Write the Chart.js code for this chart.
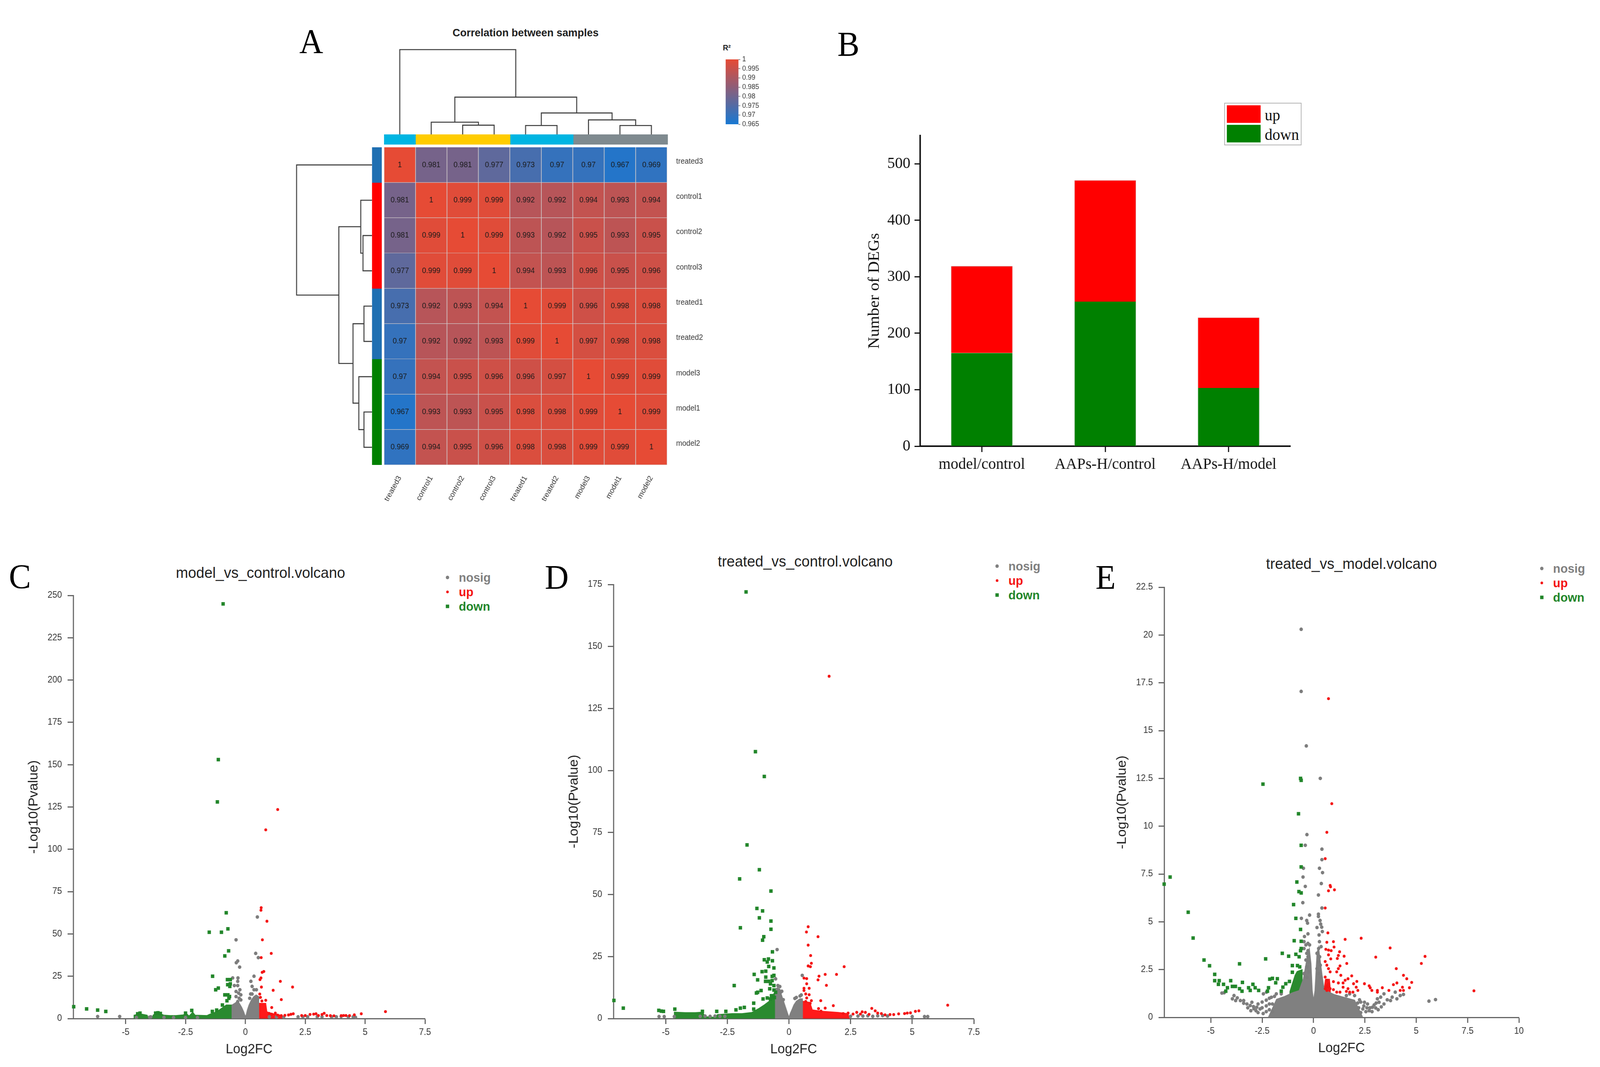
<!DOCTYPE html>
<html>
<head>
<meta charset="utf-8">
<title>DEG figure</title>
<script src="https://cdn.jsdelivr.net/npm/chart.js@4"></script>
<style>
  html, body { margin: 0; padding: 0; background: #fff; overflow: hidden; }
  #page { position: absolute; left: 0; top: 0; width: 4262px; height: 2731px; overflow: hidden; background: #fff; transform-origin: 0 0; }
  #page canvas { position: absolute; }
  .txt { position: absolute; white-space: nowrap; transform: translate(-50%, -50%); }
  .txtLeft { position: absolute; white-space: nowrap; transform: translate(0, -50%); }
  .mark { position: absolute; transform: translate(-50%, -50%); }
</style>
</head>
<body>
<div id="page"></div>
<script>
// --- panel A: sample correlation ---
const samples = ['treated3', 'control1', 'control2', 'control3', 'treated1', 'treated2', 'model3', 'model1', 'model2'];
const correlation = [
  [1, 0.981, 0.981, 0.977, 0.973, 0.97, 0.97, 0.967, 0.969],
  [0.981, 1, 0.999, 0.999, 0.992, 0.992, 0.994, 0.993, 0.994],
  [0.981, 0.999, 1, 0.999, 0.993, 0.992, 0.995, 0.993, 0.995],
  [0.977, 0.999, 0.999, 1, 0.994, 0.993, 0.996, 0.995, 0.996],
  [0.973, 0.992, 0.993, 0.994, 1, 0.999, 0.996, 0.998, 0.998],
  [0.97, 0.992, 0.992, 0.993, 0.999, 1, 0.997, 0.998, 0.998],
  [0.97, 0.994, 0.995, 0.996, 0.996, 0.997, 1, 0.999, 0.999],
  [0.967, 0.993, 0.993, 0.995, 0.998, 0.998, 0.999, 1, 0.999],
  [0.969, 0.994, 0.995, 0.996, 0.998, 0.998, 0.999, 0.999, 1]
];
const groupSizes = [1, 3, 2, 3];
const topGroupColors = ['#00b5e2', '#ffcc00', '#00b5e2', '#7f8a8f'];
const leftGroupColors = ['#1f6fb2', '#ff0000', '#1f6fb2', '#008000'];
const colorbarTicks = [0.965, 0.97, 0.975, 0.98, 0.985, 0.99, 0.995, 1];
// dendrogram merges: position a, position b, height under a, height under b, merge height
const topTree = [
  [2, 3, 0, 0, 28], [1, 2.5, 0, 28, 37], [4, 5, 0, 0, 27], [7, 8, 0, 0, 27],
  [6, 7.5, 0, 27, 44], [4.5, 6.75, 27, 44, 65], [1.75, 5.625, 37, 65, 113], [0, 3.6875, 0, 113, 257]
];
const leftTree = [
  [2, 3, 0, 0, 28], [1, 2.5, 0, 28, 35], [4, 5, 0, 0, 25], [7, 8, 0, 0, 25],
  [6, 7.5, 0, 25, 41], [4.5, 6.75, 25, 41, 59], [1.75, 5.625, 35, 59, 103], [0, 3.6875, 0, 103, 234]
];

// --- panel B: DEG counts ---
const comparisons = ['model/control', 'AAPs-H/control', 'AAPs-H/model'];
const degDown = [165, 256, 103];
const degUp = [154, 215, 125];
const degTicks = [0, 100, 200, 300, 400, 500];

// --- panel C: model_vs_control ---
const cTicksX = [-5, -2.5, 0, 2.5, 5, 7.5];
const cTicksY = [0, 25, 50, 75, 100, 125, 150, 175, 200, 225, 250];
const cCloudNosig = [[-0.56, 0], [-0.56, 8], [-0.45, 9], [-0.35, 10], [-0.25, 9], [-0.15, 6.5], [-0.07, 4], [-0.02, 2], [0, 1.2], [0.03, 2], [0.08, 5], [0.15, 8], [0.25, 11], [0.35, 13], [0.45, 14], [0.56, 13], [0.56, 0]];
const cCloudDown = [[-4.65, 0], [-4.65, 2], [-4.4, 2.8], [-4.1, 2], [-4.05, 0], [-3.9, 0], [-3.85, 2.2], [-3.6, 3.2], [-3.4, 2], [-3.15, 1.8], [-2.9, 1.8], [-2.6, 2.2], [-2.45, 2.8], [-2.35, 1.5], [-2.2, 3.8], [-2.1, 2], [-1.6, 1.8], [-1.5, 2.5], [-1.3, 3.5], [-1.1, 5], [-0.95, 6.5], [-0.8, 8], [-0.56, 8], [-0.56, 0]];
const cCloudUp = [[0.57, 0], [0.57, 9], [0.85, 9], [0.9, 4], [1.1, 3], [1.5, 2], [1.6, 0]];
const cNosig = [[0.5, 60], [-0.39, 46.5], [0.43, 38.5], [0.54, 36], [-0.32, 34], [-0.38, 33], [-0.24, 30.4], [0.36, 25], [-0.53, 24], [-0.31, 24], [0.23, 22], [-0.32, 22], [-0.46, 19.5], [-0.32, 19.5], [0.28, 19], [0.36, 17], [0.46, 17], [-0.23, 17], [-0.39, 16], [-0.28, 15], [0.22, 14.5], [0.28, 14.5], [-0.19, 14], [-0.39, 13], [-0.26, 12], [0.18, 12], [0.44, 12], [0.52, 12], [-0.32, 10], [-0.19, 11], [-6.17, 1.2], [-5.25, 1.2], [-4.55, 0.6], [-4, 0.8], [-3.95, 1], [-3.4, 0.7], [-3, 0.6], [-2.5, 0.6], [-2, 0.6], [1, 1], [1.3, 1], [1.6, 0.8], [2.2, 1], [2.4, 1], [2.6, 1], [3, 1], [3.2, 1], [3.6, 1], [3.8, 1], [4, 1.2], [4.3, 1], [4.5, 1], [4.6, 0.7]];
const cUp = [[1.35, 123.5], [0.85, 111.5], [0.66, 65.5], [0.65, 64], [0.9, 57.5], [0.71, 46.5], [1.08, 38.5], [0.66, 36], [0.77, 27.8], [0.7, 27.3], [0.65, 24], [0.61, 23], [1.46, 22], [0.67, 18.6], [1.97, 18.6], [1.16, 16.7], [0.6, 14.5], [0.63, 12.5], [1.5, 11.2], [0.85, 10.8], [0.69, 10.4], [1.1, 6.5], [5.85, 4.1], [4.84, 2.8], [3.29, 3.1], [1, 3], [1.1, 2.6], [1.25, 3.2], [1.35, 2], [1.5, 1.7], [1.65, 1.9], [1.8, 2.1], [1.9, 2.5], [2, 2.8], [2.35, 1.8], [2.5, 1.8], [2.7, 2.4], [2.85, 2.6], [2.95, 2.8], [3.05, 1.8], [3.2, 2.4], [3.4, 1.8], [3.55, 1.7], [3.7, 1.6], [4, 1.7], [4.1, 1.8], [4.2, 1.8], [4.35, 1.7], [4.55, 2.2]];
const cDown = [[-0.93, 245], [-1.13, 153], [-1.17, 128], [-0.8, 62.5], [-0.73, 53], [-1.51, 51], [-1, 51], [-0.7, 40], [-0.86, 37], [-1.37, 25], [-1.24, 17], [-1.13, 18], [-0.75, 23], [-0.63, 23], [-0.63, 20.5], [-0.74, 20], [-0.65, 19], [-0.86, 14], [-0.73, 14], [-0.66, 13], [-0.77, 10.5], [-0.69, 12], [-0.96, 8], [-7.17, 7], [-6.63, 5.7], [-6.17, 5], [-5.83, 4.2], [-4.5, 2.8], [-4.4, 3.2], [-3.75, 3.2], [-3.65, 3.4], [-3.55, 3], [-2.5, 3.2], [-2.24, 4.8], [-1.38, 4.2], [-1.2, 5]];

// --- panel D: treated_vs_control ---
const dTicksX = [-5, -2.5, 0, 2.5, 5, 7.5];
const dTicksY = [0, 25, 50, 75, 100, 125, 150, 175];
const dCloudNosig = [[-0.55, 0], [-0.55, 12], [-0.45, 12.5], [-0.35, 11], [-0.25, 8], [-0.15, 5], [-0.05, 2], [0, 0.5], [0.05, 2], [0.12, 3.6], [0.2, 5.5], [0.3, 7], [0.45, 8], [0.55, 8], [0.55, 0]];
const dCloudDown = [[-4.65, 0], [-4.65, 2.6], [-4.2, 2.4], [-3.8, 2.4], [-3.5, 2.6], [-3.4, 0.8], [-3, 0.5], [-2.9, 1.6], [-2.3, 2], [-1.9, 2], [-1.5, 2.5], [-1.2, 4.2], [-1, 5.5], [-0.8, 7], [-0.65, 9.5], [-0.55, 11], [-0.55, 0]];
const dCloudUp = [[0.56, 0], [0.56, 7], [0.85, 6.5], [0.95, 3.5], [1.3, 3], [2, 2.5], [2.4, 2], [2.45, 0]];
const dNosig = [[-0.48, 27.8], [0.54, 17.4], [-0.54, 16], [-0.45, 13.3], [-0.37, 12.9], [-0.34, 10.6], [-0.29, 11], [-0.41, 11.5], [-0.23, 7.6], [0.5, 9.5], [0.45, 9.1], [0.3, 8.5], [0.24, 8.1], [-5.27, 0.8], [-5.06, 0.8], [-4.65, 0.8], [-3.6, 0.9], [-3.4, 1], [-3.2, 0.9], [-3, 1], [-2.8, 0.9], [-2.6, 0.9], [2.5, 0.9], [2.8, 1], [3, 1], [3.2, 1.1], [3.4, 0.9], [3.6, 1.1], [3.8, 1.2], [4, 1], [5, 0.8], [5.5, 0.8], [5.63, 0.8]];
const dUp = [[1.63, 138], [0.78, 37], [0.71, 34.9], [1.18, 33], [0.78, 29.6], [0.88, 25.4], [0.91, 22.3], [0.78, 21.2], [0.87, 20.9], [2.24, 20.9], [1.47, 17.8], [1.93, 17.8], [1.22, 17.1], [0.61, 16.3], [0.72, 16.1], [1.18, 15.6], [1.52, 13.4], [0.72, 14], [0.61, 12.2], [0.82, 12.2], [0.61, 11.3], [0.68, 9.9], [0.82, 9.6], [1.29, 7.2], [0.72, 8.3], [0.91, 7.2], [0.86, 6.1], [0.68, 6.9], [6.44, 5.4], [5.27, 3.1], [5.13, 2.9], [4.93, 2.3], [4.8, 2.2], [4.69, 2], [3.36, 4.1], [3.5, 3.1], [1.8, 5.2], [1.47, 4.2], [2.97, 2.7], [1.2, 4], [1.3, 3], [2.2, 2], [2.4, 2.2], [2.6, 1.8], [2.75, 2.5], [2.9, 1.8], [3.1, 2.5], [3.25, 1.7], [3.6, 2.2], [3.75, 2], [3.9, 1.5], [4.1, 1.6], [4.25, 1.6], [4.45, 1.9]];
const dDown = [[-1.74, 172], [-1.36, 107.6], [-1, 97.6], [-1.7, 70], [-1.2, 60], [-2, 56.3], [-0.73, 51.4], [-1.3, 44.4], [-1.07, 43.4], [-1.2, 40.6], [-0.73, 39.3], [-1.97, 36.6], [-0.73, 36], [-1.02, 33], [-1.07, 31.6], [-0.67, 26.9], [-1, 23.7], [-0.83, 24], [-0.67, 23.3], [-0.88, 22.8], [-0.82, 21], [-0.61, 20.4], [-1.09, 18.9], [-0.94, 19.1], [-1.41, 17.8], [-0.61, 17.4], [-0.68, 17], [-0.94, 16.7], [-1.27, 15.6], [-0.95, 15], [-0.82, 15], [-0.68, 15.3], [-2.22, 13.3], [-0.75, 14], [-0.61, 13.3], [-1.13, 11.3], [-1.27, 10.6], [-1.32, 10.3], [-0.78, 12], [-0.61, 11.5], [-0.71, 9.2], [-0.54, 10.6], [-1.05, 7.9], [-0.88, 8.3], [-0.75, 7.9], [-0.59, 8.5], [-1.43, 6.2], [-7.1, 7.3], [-6.72, 4.2], [-5.28, 3.3], [-5.18, 3], [-5.09, 2.9], [-4.63, 3.8], [-1.81, 4.5], [-1.97, 4.2], [-2.15, 3.5], [-2.56, 2.9], [-2.93, 2.9], [-3.51, 2.9], [-1.43, 3.8]];

// --- panel E: treated_vs_model ---
const eTicksX = [-5, -2.5, 0, 2.5, 5, 7.5, 10];
const eTicksY = [0, 2.5, 5, 7.5, 10, 12.5, 15, 17.5, 20, 22.5];
const eCloudNosig = [[-2.2, 0], [-1.8, 0.95], [-1.4, 1.1], [-1, 1.3], [-0.7, 1.4], [-0.5, 2], [-0.4, 2.6], [-0.3, 3.2], [-0.2, 3.6], [-0.12, 2.8], [-0.06, 1.4], [0, 0.9], [0.07, 1.4], [0.13, 2.6], [0.17, 3.4], [0.25, 3.7], [0.3, 3.2], [0.35, 2.8], [0.42, 2.2], [0.5, 1.6], [0.7, 1.35], [1, 1.2], [1.5, 1.05], [2, 0.9], [2.4, 0]];
const eCloudDown = [[-1.15, 0], [-1.15, 1.35], [-1.05, 1.7], [-0.9, 2.2], [-0.8, 2.4], [-0.55, 2.5], [-0.55, 0]];
const eCloudUp = [[0.52, 0], [0.52, 1.5], [0.58, 2], [0.78, 2], [0.82, 1.5], [0.82, 0]];
const eNosig = [[-0.6, 20.3], [-0.6, 17.05], [-0.35, 14.2], [0.33, 12.5], [-0.32, 9.56], [-0.4, 9], [0.41, 8.8], [0.41, 8.25], [-0.49, 7.8], [0.29, 7.8], [0.44, 7.57], [-0.51, 7.34], [0.38, 7], [-0.4, 6.85], [0.24, 6.4], [-0.52, 6], [0.41, 5.72], [-0.19, 5.35], [0.24, 5.4], [0.24, 5.28], [-0.59, 5.18], [0.32, 5.07], [-0.33, 5.07], [-0.29, 4.93], [0.35, 4.88], [0.4, 4.72], [0.17, 4.7], [0.43, 4.49], [-0.27, 4.37], [0.27, 4.31], [-0.44, 4.23], [-0.46, 3.96], [-0.27, 3.87], [-0.37, 3.79], [-0.19, 3.79], [0.29, 3.96], [0.37, 3.7], [0.25, 3.6], [-0.46, 3.6], [-0.27, 3.49], [-0.33, 3.35], [0.17, 3.35], [0.3, 3.17], [-0.27, 3.17], [-0.37, 3], [-0.24, 2.9], [0.22, 2.9], [0.33, 2.73], [-0.33, 2.64], [0.17, 2.55], [-0.22, 2.38], [0.25, 2.29], [-0.46, 2.29], [-0.33, 2.1], [0.37, 2.1], [-4.46, 1.27], [-4.35, 1.29], [-3.95, 0.97], [-3.87, 1.14], [-3.71, 1.02], [-3.56, 0.88], [-3.4, 0.74], [-3.24, 0.7], [-3.08, 0.62], [-2.92, 0.56], [-2.76, 0.53], [-3.79, 0.88], [-2.6, 0.44], [-3.4, 0.88], [-3, 0.79], [-2.44, 1.23], [-2.29, 1.32], [-1.81, 1.23], [-1.57, 1.23], [5.94, 0.93], [5.62, 0.85], [4.38, 1.2], [4.22, 1.14], [4.06, 0.97], [3.83, 1.06], [3.59, 0.92], [3.43, 1.23], [3.27, 1.06], [3.11, 0.97], [3.43, 0.7], [3.19, 0.79], [2.87, 0.53], [2.63, 0.7], [2.48, 0.79], [2.24, 0.92], [2, 1.14], [1.76, 1.23], [1.6, 1.14], [3.03, 0.49], [2.71, 0.35], [2.4, 0.44], [3.75, 0.88], [3.98, 1.32], [-3.2, 0.5], [-3.05, 0.35], [-2.9, 0.45], [-2.8, 0.35], [-2.7, 0.7], [-2.7, 0.25], [-2.5, 0.8], [-2.5, 0.5], [-2.45, 0.2], [-2.3, 0.9], [-2.3, 0.6], [-2.3, 0.3], [-2.15, 1], [-2.15, 0.7], [-2.15, 0.4], [-2.05, 1.05], [-2, 0.7], [-2, 0.3], [-1.9, 1.1], [2.15, 0.75], [2.2, 0.5], [2.3, 0.8], [2.3, 0.25], [2.45, 0.6], [2.55, 0.3], [2.6, 0.5], [2.75, 0.5], [2.85, 0.3], [2.95, 0.65], [3.05, 0.75], [3.15, 0.4], [3.3, 0.55]];
const eUp = [[0.73, 16.67], [0.89, 11.18], [0.65, 9.68], [0.57, 8.3], [0.81, 6.9], [0.83, 6.83], [0.73, 6.62], [1.02, 6.67], [0.57, 5.72], [0.7, 4.42], [2.32, 4.14], [1.54, 4.08], [0.97, 3.96], [0.65, 3.93], [1, 3.68], [3.73, 3.63], [0.6, 3.56], [0.73, 3.52], [0.86, 3.49], [1.27, 3.43], [1.21, 3.24], [1.49, 3.2], [5.43, 3.19], [3.03, 3.15], [0.73, 3.27], [0.84, 3.06], [1.16, 3.08], [0.57, 2.92], [1.62, 2.82], [5.25, 2.82], [1.29, 2.69], [0.65, 2.73], [0.73, 2.55], [1.21, 2.55], [4.03, 2.55], [0.81, 2.38], [1.13, 2.38], [1.33, 2.2], [4.38, 2.2], [4.54, 2.02], [1.86, 2.17], [1.68, 2.02], [1.54, 1.94], [1.21, 1.8], [1.44, 1.8], [0.97, 1.87], [0.65, 1.94], [0.57, 2.11], [0.73, 1.76], [2.11, 1.88], [1.95, 1.76], [4.78, 1.83], [4.06, 1.8], [3.89, 1.71], [2.48, 1.76], [2.71, 1.65], [2.76, 1.55], [2.84, 1.41], [2.08, 1.58], [2.16, 1.41], [3.11, 1.41], [3.11, 1.32], [3.35, 1.55], [3.67, 1.41], [4.22, 1.41], [4.33, 1.58], [4.38, 1.41], [4.67, 1.55], [7.81, 1.39], [0.65, 1.41], [0.81, 1.5], [1.13, 1.32], [1.44, 1.58], [1.68, 1.5], [1.92, 1.32], [1.6, 1.36], [1.29, 1.32], [0.97, 1.45], [0.57, 1.5], [0.68, 1.67], [0.62, 1.58], [0.73, 1.58], [1.76, 1.32]];
const eDown = [[-7.27, 6.97], [-6.98, 7.34], [-6.1, 5.5], [-5.86, 4.15], [-5.33, 3], [-5.06, 2.7], [-4.81, 2.25], [-4.81, 1.92], [-4.59, 1.92], [-4.63, 1.73], [-4.38, 1.73], [-4.19, 1.55], [-4.27, 1.37], [-4.03, 1.92], [-3.95, 1.62], [-3.8, 1.62], [-3.6, 2.8], [-3.46, 1.83], [-3.6, 1.5], [-3.48, 1.37], [-3.16, 1.55], [-2.95, 1.73], [-3.08, 1.41], [-2.84, 1.55], [-2.67, 1.41], [-2.33, 3.06], [-2.46, 12.2], [-2.19, 1.55], [-2.24, 1.37], [-2.13, 2], [-2, 2.04], [-1.76, 2.02], [-1.84, 1.81], [-1.52, 3.35], [-1.21, 3.2], [-0.86, 3.3], [-1.35, 1.76], [-1.49, 1.58], [-1.57, 1.37], [-1.17, 1.88], [-1.03, 2.71], [-1.03, 2.36], [-0.78, 2.71], [-0.67, 2.64], [-0.7, 3.17], [-0.63, 12.5], [-0.6, 12.4], [-0.73, 10.65], [-0.6, 9], [-0.6, 7.87], [-0.81, 7.08], [-0.71, 6.58], [-0.6, 6.51], [-0.97, 5.9], [-0.86, 5.18], [-0.63, 4.6], [-0.94, 4.01], [-0.6, 3.98], [-0.6, 3.6], [-0.63, 3.49]];

Chart.defaults.animation = false;
Chart.defaults.font.family = '"Liberation Sans", Arial, sans-serif';
Chart.defaults.plugins.legend.display = false;
Chart.defaults.plugins.tooltip.enabled = false;

const page = document.getElementById('page');
// the browser window can be narrower than the figure, so squeeze the page to fit it
page.style.transform = `scaleX(${Math.min(1, window.innerWidth / 4262)})`;

function addCanvas(left, top, width, height) {
  const canvas = document.createElement('canvas');
  canvas.width = width;
  canvas.height = height;
  canvas.style.cssText = `left:${left}px;top:${top}px;width:${width}px;height:${height}px`;
  page.appendChild(canvas);
  return canvas;
}

function addText(text, x, y, css, cls) {
  const el = document.createElement('div');
  el.className = cls || 'txt';
  el.textContent = text;
  el.style.cssText = `left:${x}px;top:${y}px;${css}`;
  page.appendChild(el);
  return el;
}

/** Pin an axis box to a fixed size so the plot area lands where we want it. */
function fixedBox(size) {
  return scale => {
    if (scale.isHorizontal()) scale.height = size; else scale.width = size;
    scale.paddingLeft = scale.paddingRight = scale.paddingTop = scale.paddingBottom = 0;
  };
}

const toPoints = pairs => pairs.map(p => ({ x: p[0], y: p[1] }));

function correlationColor(v) {
  const t = (v - 0.965) / 0.035;
  const r = Math.round(24 + (230 - 24) * t);
  const g = Math.round(120 + (75 - 120) * t);
  const b = Math.round(210 + (53 - 210) * t);
  return `rgb(${r},${g},${b})`;
}

// cell values are printed on top of each heatmap bar
const cellLabels = {
  id: 'cellLabels',
  afterDatasetsDraw(chart) {
    const ctx = chart.ctx;
    ctx.save();
    ctx.font = '19.5px "Liberation Sans"';
    ctx.fillStyle = '#1a1a1a';
    ctx.textAlign = 'center';
    ctx.textBaseline = 'middle';
    correlation.forEach((row, i) => {
      chart.getDatasetMeta(i).data.forEach((bar, j) => {
        const c = bar.getCenterPoint();
        ctx.fillText(String(row[j]), c.x, c.y);
      });
    });
    ctx.restore();
  }
};

function drawHeatmap() {
  const left = 953, top = 377, plotW = 754, plotH = 813;
  new Chart(addCanvas(left, top, 70 + plotW + 150, plotH + 110), {
    type: 'bar',
    data: {
      labels: samples,
      datasets: correlation.map((row, i) => ({
        label: samples[i],
        data: row.map(() => 1),
        backgroundColor: row.map(correlationColor),
        borderColor: '#cfc9cb',
        borderWidth: 1.2,
        barPercentage: 1,
        categoryPercentage: 1
      }))
    },
    options: {
      responsive: false,
      layout: { padding: { left: 70 } },
      scales: {
        x: {
          stacked: true,
          grid: { display: false },
          border: { display: false },
          afterFit: fixedBox(110),
          ticks: { autoSkip: false, minRotation: 60, maxRotation: 60, padding: 16, color: '#333', font: { size: 19.5 } }
        },
        y: {
          stacked: true,
          position: 'right',
          reverse: true,
          min: 0,
          max: 9,
          grid: { display: false },
          border: { display: false },
          afterFit: fixedBox(150),
          afterBuildTicks: s => { s.ticks = samples.map((_, i) => ({ value: i + 0.4 })); },
          ticks: {
            autoSkip: false,
            padding: 16,
            color: '#333',
            font: { size: 19.5 },
            callback: v => samples[Math.floor(v)]
          }
        }
      }
    },
    plugins: [cellLabels]
  });
}

function drawAnnotation(groups, colors, horizontal, left, top, width, height) {
  new Chart(addCanvas(left, top, width, height), {
    type: 'bar',
    data: {
      labels: ['group'],
      datasets: groups.map((size, i) => ({
        data: [size],
        backgroundColor: colors[i],
        barPercentage: 1,
        categoryPercentage: 1
      }))
    },
    options: {
      responsive: false,
      indexAxis: horizontal ? 'y' : 'x',
      scales: {
        x: { display: false, stacked: true, min: horizontal ? 0 : undefined, max: horizontal ? 9 : undefined },
        y: { display: false, stacked: true, reverse: !horizontal, min: horizontal ? undefined : 0, max: horizontal ? undefined : 9 }
      }
    }
  });
}

function treeDatasets(tree, swap) {
  return tree.map(m => {
    const pts = [[m[0], m[2]], [m[0], m[4]], [m[1], m[4]], [m[1], m[3]]];
    return {
      data: pts.map(p => (swap ? { x: p[1], y: p[0] } : { x: p[0], y: p[1] })),
      showLine: true,
      pointRadius: 0,
      borderColor: '#3c3c3c',
      borderWidth: 2.6,
      tension: 0,
      clip: false
    };
  });
}

function drawTree(tree, swap, left, top, width, height, maxH) {
  const margin = 5;
  const posRange = { min: -0.5, max: 8.5 };
  const heightRange = { min: 0, max: maxH };
  new Chart(addCanvas(left - margin, top - margin, width + 2 * margin, height + 2 * margin), {
    type: 'scatter',
    data: { datasets: treeDatasets(tree, swap) },
    options: {
      responsive: false,
      layout: { padding: margin },
      scales: swap
        ? { x: { display: false, reverse: true, ...heightRange }, y: { display: false, reverse: true, ...posRange } }
        : { x: { display: false, ...posRange }, y: { display: false, ...heightRange } }
    }
  });
}

function drawColorbar() {
  new Chart(addCanvas(1933, 130, 110, 210), {
    type: 'bar',
    data: {
      labels: ['R2'],
      datasets: [{
        data: [[colorbarTicks[0], colorbarTicks[colorbarTicks.length - 1]]],
        barPercentage: 1,
        categoryPercentage: 1,
        backgroundColor: ctx => {
          const area = ctx.chart.chartArea;
          if (!area) return '#888';
          const g = ctx.chart.ctx.createLinearGradient(0, area.bottom, 0, area.top);
          colorbarTicks.forEach((v, i) => g.addColorStop(i / (colorbarTicks.length - 1), correlationColor(v)));
          return g;
        }
      }]
    },
    options: {
      responsive: false,
      layout: { padding: { top: 22, bottom: 22 } },
      scales: {
        x: { display: false },
        y: {
          position: 'right',
          min: 0.965,
          max: 1,
          grid: { drawOnChartArea: false, tickLength: 5, tickColor: '#888', tickWidth: 2 },
          border: { display: false },
          afterFit: fixedBox(76),
          afterBuildTicks: s => { s.ticks = colorbarTicks.map(v => ({ value: v })); },
          ticks: { autoSkip: false, padding: 5, color: '#333', font: { size: 18 }, callback: v => String(v) }
        }
      }
    }
  });
}

function drawBars() {
  const left = 2200, top = 320, plotL = 2451, plotR = 3437, plotT = 347, plotB = 1142;
  const black = '#111';
  new Chart(addCanvas(left, top, plotR + 40 - left, plotB + 90 - top), {
    type: 'bar',
    data: {
      labels: comparisons,
      datasets: [
        { label: 'down', data: degDown, backgroundColor: '#008000', borderColor: '#a8b8a8', borderWidth: { left: 1, right: 1 } },
        { label: 'up', data: degUp, backgroundColor: '#ff0000', borderColor: '#c8a8a8', borderWidth: { left: 1, right: 1, top: 1 } }
      ]
    },
    options: {
      responsive: false,
      layout: { padding: { top: plotT - top, right: 40 } },
      datasets: { bar: { barPercentage: 0.5, categoryPercentage: 1 } },
      scales: {
        x: {
          stacked: true,
          afterFit: fixedBox(90),
          grid: { offset: false, drawOnChartArea: false, tickLength: 15, tickColor: black, tickWidth: 3 },
          border: { color: black, width: 4 },
          ticks: { autoSkip: false, maxRotation: 0, padding: 8, color: black, font: { family: '"Liberation Serif"', size: 41 } }
        },
        y: {
          stacked: true,
          min: 0,
          max: 550,
          afterFit: fixedBox(plotL - left),
          afterBuildTicks: s => { s.ticks = degTicks.map(v => ({ value: v })); },
          grid: { drawOnChartArea: false, tickLength: 15, tickColor: black, tickWidth: 3 },
          border: { color: black, width: 4 },
          ticks: { padding: 11, color: black, font: { family: '"Liberation Serif"', size: 41 } },
          title: {
            display: true,
            text: 'Number of DEGs',
            color: black,
            padding: { top: 105, bottom: 0 },
            font: { family: '"Liberation Serif"', size: 42 }
          }
        }
      }
    }
  });

  // legend box
  const box = document.createElement('div');
  box.style.cssText = 'position:absolute;left:3261px;top:263px;width:202px;height:105px;border:2px solid #b4b4b4;background:#fff';
  page.appendChild(box);
  [['up', '#ff0000', 292], ['down', '#008000', 342]].forEach(([name, color, y]) => {
    const swatch = document.createElement('div');
    swatch.className = 'mark';
    swatch.style.cssText = `left:3313px;top:${y}px;width:90px;height:45px;background:${color}`;
    page.appendChild(swatch);
    addText(name, 3369, y + 2, 'font:41px "Liberation Serif";color:#111', 'txtLeft');
  });
}

/** One volcano panel: filled dense clouds first, then the single points above them. */
function drawVolcano(p) {
  const boxW = 150, boxH = 100;
  const left = p.l - boxW;
  const top = p.t - 30;
  const rightPad = 40;
  const axisColor = '#666';
  const tickFont = { size: 23 };
  const cloud = (pairs, color, order) => ({
    data: toPoints(pairs),
    showLine: true,
    fill: 'origin',
    backgroundColor: color,
    borderColor: color,
    borderWidth: 2,
    pointRadius: 0,
    tension: 0,
    order
  });
  const dots = (pairs, color, style, radius, order) => ({
    data: toPoints(pairs),
    backgroundColor: color,
    borderWidth: 0,
    pointStyle: style,
    pointRadius: radius,
    clip: false,
    order
  });
  new Chart(addCanvas(left, top, p.r + rightPad - left, p.b + boxH - top), {
    type: 'scatter',
    data: {
      datasets: [
        cloud(p.cloudDown, '#2a8a2f', 6),
        cloud(p.cloudUp, '#ff1a1a', 6),
        cloud(p.cloudNosig, '#808080', 5),
        dots(p.nosig, '#7d7d7d', 'circle', 4.6, 4),
        dots(p.up, '#f41414', 'circle', 3.8, 3),
        dots(p.down, '#22862a', 'rect', 6.4, 2)
      ]
    },
    options: {
      responsive: false,
      layout: { padding: { top: 30, right: rightPad } },
      scales: {
        x: {
          type: 'linear',
          min: p.xMin,
          max: p.xMax,
          afterFit: fixedBox(boxH),
          afterBuildTicks: s => { s.ticks = p.ticksX.map(v => ({ value: v })); },
          grid: { drawOnChartArea: false, tickLength: 14, tickColor: axisColor, tickWidth: 3 },
          border: { color: axisColor, width: 3 },
          ticks: { autoSkip: false, maxRotation: 0, padding: 8, color: '#333', font: tickFont, callback: v => String(v) },
          title: {
            display: true,
            text: 'Log2FC',
            color: '#222',
            padding: { top: boxH - p.xTitleDrop - 21, bottom: 0 },
            font: { size: 35 }
          }
        },
        y: {
          type: 'linear',
          min: 0,
          max: p.yMax,
          afterFit: fixedBox(boxW),
          afterBuildTicks: s => { s.ticks = p.ticksY.map(v => ({ value: v })); },
          grid: { drawOnChartArea: false, tickLength: 15, tickColor: axisColor, tickWidth: 3 },
          border: { color: axisColor, width: 3 },
          ticks: { autoSkip: false, padding: 15, color: '#333', font: tickFont, callback: v => String(v) },
          title: {
            display: true,
            text: '-Log10(Pvalue)',
            color: '#222',
            padding: { top: boxW - (p.l - p.yTitleX) - 21, bottom: 0 },
            font: { size: 35 }
          }
        }
      }
    }
  });
  addText(p.title, p.titleX, p.titleY, 'font:39px "Liberation Sans";color:#222');
  [['nosig', '#808080', 0], ['up', '#f41414', 1], ['down', '#22862a', 2]].forEach(([name, color, i]) => {
    const y = p.legendY + i * 37;
    const mark = document.createElement('div');
    mark.className = 'mark';
    const size = i === 1 ? 7 : 9;
    mark.style.cssText = `left:${p.legendX}px;top:${y}px;width:${size}px;height:${size}px;background:${color};border-radius:${i === 2 ? 0 : 50}%`;
    page.appendChild(mark);
    addText(name, p.legendX + 30, y, `font:bold 32px "Liberation Sans";color:${color}`, 'txtLeft');
  });
}

// panel letters and heatmap captions
const letterCss = 'font:88px "Liberation Serif";color:#000';
addText('A', 829, 105, letterCss);
addText('B', 2260, 112, letterCss);
addText('C', 53, 1475, letterCss);
addText('D', 1483, 1477, letterCss);
addText('E', 2945, 1477, letterCss);
addText('Correlation between samples', 1400, 84, 'font:bold 28px "Liberation Sans";color:#222');
addText('R²', 1936, 122, 'font:bold 20px "Liberation Sans";color:#222');

drawTree(topTree, false, 1023, 127, 754, 217, 257);
drawTree(leftTree, true, 790, 377, 201, 813, 234);
drawAnnotation(groupSizes, topGroupColors, true, 1023, 344, 756, 26);
drawAnnotation(groupSizes, leftGroupColors, false, 991, 377, 26, 813);
drawHeatmap();
drawColorbar();
drawBars();

drawVolcano({
  l: 195, r: 1132, t: 1524, b: 2607, xMin: -7.19, xMax: 7.5, yMax: 250,
  ticksX: cTicksX, ticksY: cTicksY,
  cloudNosig: cCloudNosig, cloudDown: cCloudDown, cloudUp: cCloudUp,
  nosig: cNosig, up: cUp, down: cDown,
  title: 'model_vs_control.volcano', titleX: 694, titleY: 1466,
  legendX: 1192, legendY: 1478, xTitleDrop: 77, yTitleX: 90
});
drawVolcano({
  l: 1634, r: 2594, t: 1496, b: 2607, xMin: -7.12, xMax: 7.5, yMax: 175,
  ticksX: dTicksX, ticksY: dTicksY,
  cloudNosig: dCloudNosig, cloudDown: dCloudDown, cloudUp: dCloudUp,
  nosig: dNosig, up: dUp, down: dDown,
  title: 'treated_vs_control.volcano', titleX: 2145, titleY: 1437,
  legendX: 2656, legendY: 1449, xTitleDrop: 79, yTitleX: 1529
});
drawVolcano({
  l: 3101, r: 4046, t: 1503, b: 2604, xMin: -7.27, xMax: 10, yMax: 22.5,
  ticksX: eTicksX, ticksY: eTicksY,
  cloudNosig: eCloudNosig, cloudDown: eCloudDown, cloudUp: eCloudUp,
  nosig: eNosig, up: eUp, down: eDown,
  title: 'treated_vs_model.volcano', titleX: 3600, titleY: 1443,
  legendX: 4107, legendY: 1455, xTitleDrop: 78, yTitleX: 2989
});
</script>
</body>
</html>
